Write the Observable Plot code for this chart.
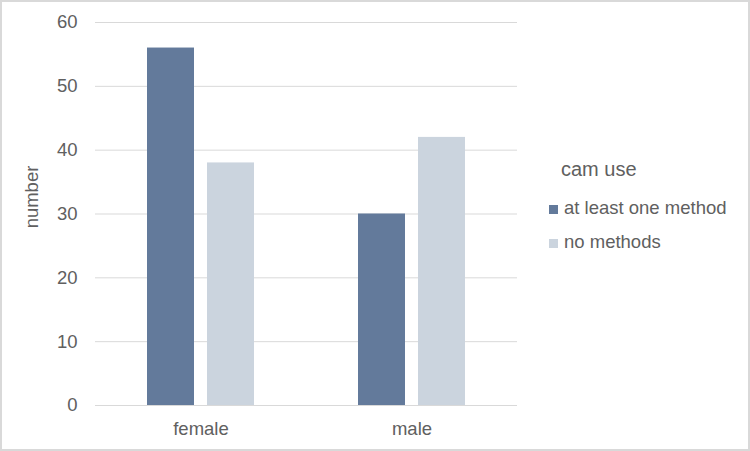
<!DOCTYPE html>
<html>
<head>
<meta charset="utf-8">
<script src="https://cdn.jsdelivr.net/npm/d3@7"></script>
<script src="https://cdn.jsdelivr.net/npm/@observablehq/plot@0.6"></script>
<style>
  html, body { margin: 0; padding: 0; background: #fff; }
  #wrap { position: relative; width: 750px; height: 451px; font-family: "Liberation Sans", Arial, sans-serif; color: #606060; }
  #frame { position: absolute; left: 0; top: 0; width: 750px; height: 451px; box-sizing: border-box; border: 2px solid #d9d9d9; pointer-events: none; }
  #ylabel { position: absolute; left: 32px; top: 197px; transform: translate(-50%, -50%) rotate(-90deg); font-size: 18.5px; white-space: nowrap; }
  #legend { position: absolute; left: 549px; top: 157px; font-size: 18.5px; }
  #legend .title { font-size: 20px; margin-left: 12px; margin-bottom: 16px; line-height: 24px; }
  #legend .item { display: flex; align-items: center; height: 22px; margin-bottom: 12px; }
  #legend .sw { width: 9px; height: 9px; margin-right: 6px; margin-top: 3px; }
</style>
</head>
<body>
<div id="wrap">
  <div id="chart"></div>
  <div id="ylabel">number</div>
  <div id="legend"></div>
  <div id="frame"></div>
</div>
<script>
const categories = ["female", "male"];
const series = ["at least one method", "no methods"];
const atLeastOne = [56, 30];
const noMethods = [38, 42];
const yTicks = [0, 10, 20, 30, 40, 50, 60];
const colors = ["#637a9b", "#cbd4de"];
const legendTitle = "cam use";

const data = [];
categories.forEach((c, i) => {
  data.push({sex: c, method: series[0], value: atLeastOne[i]});
  data.push({sex: c, method: series[1], value: noMethods[i]});
});

const chart = Plot.plot({
  width: 750,
  height: 451,
  marginLeft: 95,
  marginRight: 233,
  marginTop: 22,
  marginBottom: 46,
  style: {fontFamily: '"Liberation Sans", Arial, sans-serif', fontSize: "18.5px", color: "#606060", background: "transparent"},
  fx: {domain: categories, padding: 0, label: null, axis: "bottom", tickSize: 0, tickPadding: 16},
  x: {domain: series, axis: null, paddingInner: 0.2167, paddingOuter: 0.8583},
  y: {domain: [0, 60], ticks: yTicks, tickSize: 0, tickPadding: 18, label: null},
  color: {domain: series, range: colors},
  marks: [
    Plot.ruleY(yTicks, {stroke: "#d9d9d9", strokeWidth: 1}),
    Plot.barY(data, {fx: "sex", x: "method", y: "value", fill: "method"})
  ]
});
document.getElementById("chart").appendChild(chart);

const leg = document.getElementById("legend");
const t = document.createElement("div");
t.className = "title";
t.textContent = legendTitle;
leg.appendChild(t);
series.forEach((s, i) => {
  const it = document.createElement("div");
  it.className = "item";
  const sw = document.createElement("span");
  sw.className = "sw";
  sw.style.background = colors[i];
  const tx = document.createElement("span");
  tx.textContent = s;
  it.appendChild(sw);
  it.appendChild(tx);
  leg.appendChild(it);
});
</script>
</body>
</html>
